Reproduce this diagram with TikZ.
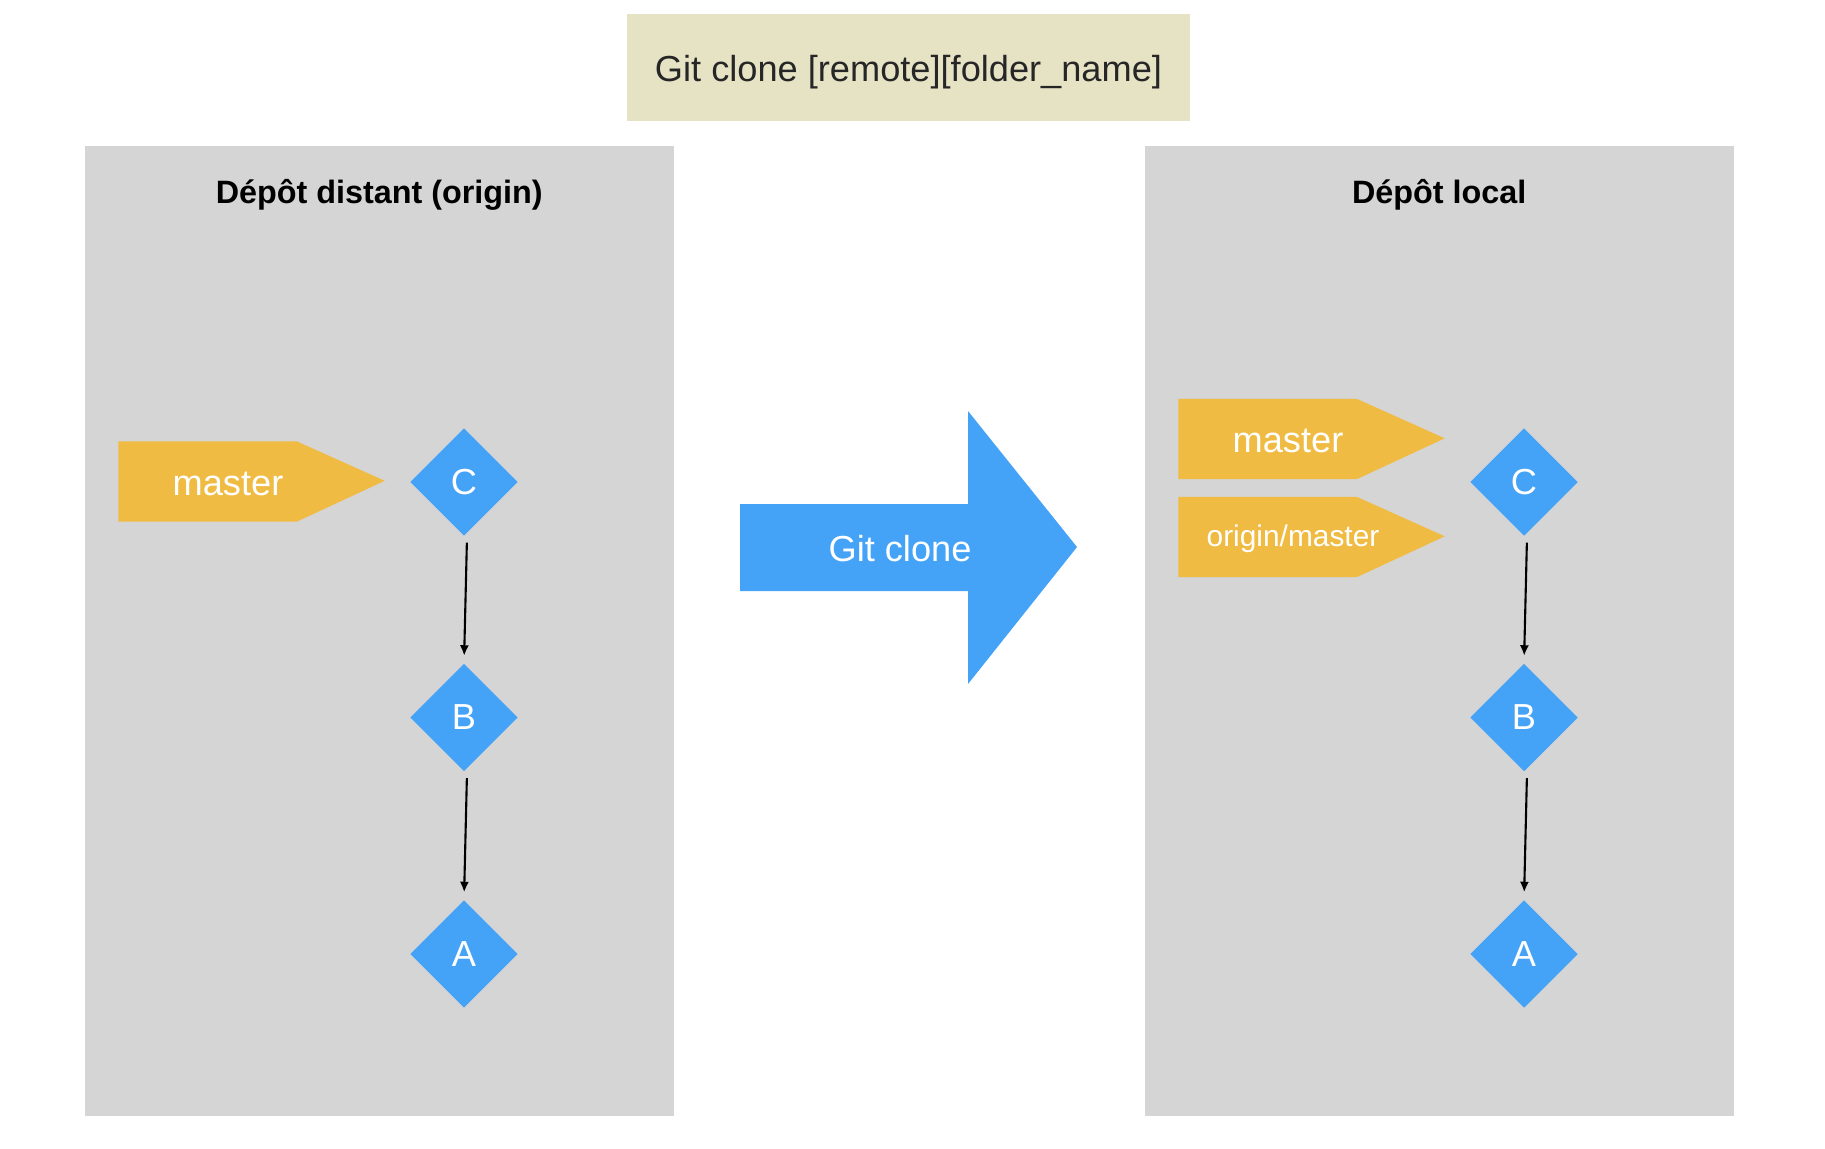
\documentclass[tikz,border=0pt]{standalone}
\usepackage{fontspec}
\setmainfont{Liberation Sans}
\usetikzlibrary{positioning,arrows.meta,shapes.geometric}
\definecolor{panelgray}{RGB}{213,213,213}
\definecolor{tagorange}{RGB}{240,187,66}
\definecolor{commitblue}{RGB}{69,163,247}
\definecolor{cmdbeige}{RGB}{230,227,197}
\definecolor{cmdtext}{RGB}{38,38,38}

\tikzset{
  panel/.style={fill=panelgray, anchor=north west, minimum width=5.89cm, minimum height=9.70cm, inner sep=0},
  paneltitle/.style={font=\fontsize{9.2}{11}\selectfont\bfseries},
  commit/.style={diamond, fill=commitblue, text=white, minimum size=1.08cm, inner sep=0, font=\fontsize{10.3}{12}\selectfont},
  branch/.style={minimum width=1.77cm, minimum height=0.79cm, inner sep=0},
  branchtext/.style={text=white, inner sep=0, font=\fontsize{10.3}{12}\selectfont},
  parent/.style={-{Latex[length=3pt,width=2.6pt]}, line width=0.6pt, shorten <=1.7pt, shorten >=2pt},
}

\begin{document}
\begin{tikzpicture}
  \useasboundingbox (0,0) rectangle (18.25,-11.48);

  % command
  \node[fill=cmdbeige, text=cmdtext, minimum width=5.63cm, minimum height=1.07cm,
        font=\fontsize{10.3}{12}\selectfont] (cmd) at (9.085,-0.675) {};
  \node[text=cmdtext, font=\fontsize{10.3}{12}\selectfont] (cmdText) at ([yshift=-0.05cm]cmd.center) {Git clone [remote][folder\_name]};

  % Remote repository
  \node[panel] (remote) at (0.84,-1.455) {};
  \node[paneltitle] (remoteTitle) at ([yshift=-0.49cm]remote.north) {Dépôt distant (origin)};

  \node[branch] (tagMasterR) at (2.075,-4.815) {};
  \fill[tagorange] (tagMasterR.north west) -- (tagMasterR.north east) -- ++(0.88,-0.395)
    -- (tagMasterR.south east) -- (tagMasterR.south west) -- cycle;
  \node[branchtext] (masterR) at ([xshift=0.205cm,yshift=-0.02cm]tagMasterR.center) {master};

  \node[commit] (C1) at (4.64,-4.82) {C};
  \node[commit] (B1) at (4.64,-7.175) {B};
  \node[commit] (A1) at (4.64,-9.54) {A};
  \draw[parent] ([xshift=0.03cm]C1.south) -- (B1.north);
  \draw[parent] ([xshift=0.03cm]B1.south) -- (A1.north);

  % Git clone arrow
  \fill[commitblue] (7.40,-5.04) -- (9.68,-5.04) -- (9.68,-4.11) -- (10.77,-5.47)
    -- (9.68,-6.84) -- (9.68,-5.91) -- (7.40,-5.91) -- cycle;
  \node[branchtext] (clone) at (9.00,-5.49) {Git clone};

  % Local repository
  \begin{scope}[xshift=10.6cm]
  \node[panel] (local) at (0.84,-1.455) {};
  \node[paneltitle] (localTitle) at ([yshift=-0.49cm]local.north) {Dépôt local};

  \node[branch] (tagMasterL) at (2.075,-4.39) {};
  \fill[tagorange] (tagMasterL.north west) -- (tagMasterL.north east) -- ++(0.88,-0.395)
    -- (tagMasterL.south east) -- (tagMasterL.south west) -- cycle;
  \node[branchtext] (masterL) at ([xshift=0.205cm,yshift=-0.02cm]tagMasterL.center) {master};

  \node[branch] (tagOrigin) at (2.075,-5.37) {};
  \fill[tagorange] (tagOrigin.north west) -- (tagOrigin.north east) -- ++(0.88,-0.395)
    -- (tagOrigin.south east) -- (tagOrigin.south west) -- cycle;
  \node[branchtext, font=\fontsize{8.5}{10}\selectfont] (origin) at ([xshift=0.255cm,yshift=-0.02cm]tagOrigin.center) {origin/master};

  \node[commit] (C2) at (4.64,-4.82) {C};
  \node[commit] (B2) at (4.64,-7.175) {B};
  \node[commit] (A2) at (4.64,-9.54) {A};
  \draw[parent] ([xshift=0.03cm]C2.south) -- (B2.north);
  \draw[parent] ([xshift=0.03cm]B2.south) -- (A2.north);
  \end{scope}
\end{tikzpicture}
\end{document}
